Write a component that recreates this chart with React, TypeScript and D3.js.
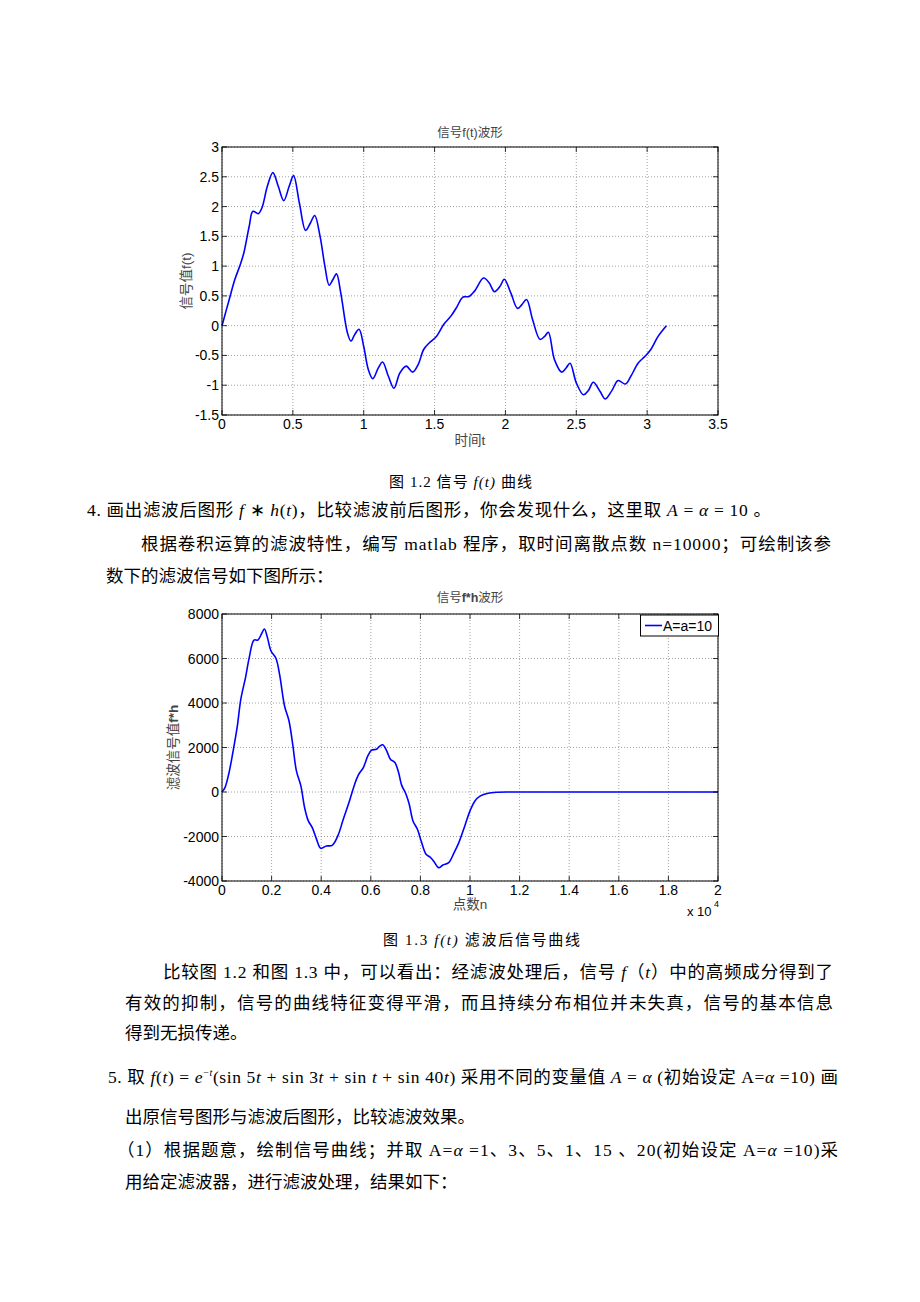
import React from 'react';
import * as d3 from 'd3';

// ---------- Figure 1.2 : f(t) ----------
const t1 = [0, 0.051, 0.09, 0.128, 0.154, 0.192, 0.218, 0.256, 0.282, 0.32, 0.359, 0.397, 0.436, 0.474, 0.505, 0.546, 0.59, 0.623, 0.654, 0.692, 0.726, 0.756, 0.782, 0.808, 0.838, 0.885, 0.91, 0.936, 0.967, 1.0, 1.033, 1.064, 1.103, 1.133, 1.174, 1.213, 1.256, 1.3, 1.346, 1.385, 1.423, 1.462, 1.513, 1.564, 1.615, 1.654, 1.7, 1.744, 1.782, 1.846, 1.885, 1.923, 1.962, 1.992, 2.038, 2.085, 2.115, 2.149, 2.192, 2.244, 2.277, 2.303, 2.346, 2.397, 2.428, 2.456, 2.5, 2.551, 2.585, 2.62, 2.667, 2.705, 2.751, 2.795, 2.846, 2.885, 2.936, 2.987, 3.026, 3.077, 3.136];
const f1 = [0, 0.44, 0.77, 1.02, 1.22, 1.67, 1.92, 1.88, 1.98, 2.34, 2.57, 2.34, 2.1, 2.34, 2.52, 2.06, 1.6, 1.72, 1.85, 1.5, 1.0, 0.68, 0.77, 0.87, 0.55, -0.12, -0.26, -0.15, -0.06, -0.35, -0.74, -0.89, -0.71, -0.61, -0.85, -1.05, -0.79, -0.68, -0.78, -0.65, -0.4, -0.29, -0.18, 0.02, 0.16, 0.3, 0.48, 0.49, 0.58, 0.8, 0.72, 0.57, 0.66, 0.78, 0.55, 0.29, 0.35, 0.44, 0.1, -0.23, -0.18, -0.11, -0.57, -0.78, -0.71, -0.63, -0.96, -1.16, -1.09, -0.95, -1.1, -1.23, -1.09, -0.92, -0.98, -0.85, -0.63, -0.51, -0.4, -0.18, 0.0];
const xTicks1 = [0, 0.5, 1, 1.5, 2, 2.5, 3, 3.5];
const xTickLabels1 = ['0', '0.5', '1', '1.5', '2', '2.5', '3', '3.5'];
const yTicks1 = [-1.5, -1, -0.5, 0, 0.5, 1, 1.5, 2, 2.5, 3];
const yTickLabels1 = ['-1.5', '-1', '-0.5', '0', '0.5', '1', '1.5', '2', '2.5', '3'];

// ---------- Figure 1.3 : f*h ----------
const n2 = [0, 0.012, 0.027, 0.045, 0.061, 0.076, 0.095, 0.11, 0.129, 0.145, 0.159, 0.171, 0.183, 0.197, 0.217, 0.232, 0.252, 0.27, 0.285, 0.3, 0.318, 0.333, 0.348, 0.364, 0.379, 0.398, 0.421, 0.444, 0.467, 0.489, 0.512, 0.535, 0.55, 0.57, 0.588, 0.603, 0.623, 0.636, 0.648, 0.664, 0.679, 0.697, 0.712, 0.724, 0.742, 0.755, 0.77, 0.788, 0.803, 0.823, 0.838, 0.853, 0.873, 0.891, 0.914, 0.936, 0.955, 0.979, 1.0, 1.02, 1.042, 1.073, 1.111, 1.164, 1.3, 1.6, 2.0];
const g2 = [0, 200, 800, 1850, 2900, 4175, 5150, 6050, 6830, 6830, 7100, 7325, 6950, 6350, 6020, 5300, 3875, 3200, 2150, 950, 275, -700, -1300, -1600, -2050, -2530, -2425, -2400, -1975, -1225, -475, 350, 770, 1100, 1625, 1880, 1925, 2060, 2120, 1850, 1475, 1325, 875, 320, -100, -550, -1300, -1675, -2200, -2800, -2920, -3100, -3400, -3280, -3175, -2725, -2275, -1525, -850, -400, -175, -55, -10, 0, 0, 0, 0];
const xTicks2 = [0, 0.2, 0.4, 0.6, 0.8, 1, 1.2, 1.4, 1.6, 1.8, 2];
const xTickLabels2 = ['0', '0.2', '0.4', '0.6', '0.8', '1', '1.2', '1.4', '1.6', '1.8', '2'];
const yTicks2 = [-4000, -2000, 0, 2000, 4000, 6000, 8000];
const yTickLabels2 = ['-4000', '-2000', '0', '2000', '4000', '6000', '8000'];
const legendLabel2 = 'A=a=10';

const CJK_SANS = '"Liberation Sans", Arial, "Noto Sans CJK SC", sans-serif';
const BODY = '"Liberation Serif", "Times New Roman", "Noto Sans CJK SC", serif';

type ChartProps = {
  left: number; right: number; top: number; bottom: number;
  xDomain: [number, number]; yDomain: [number, number];
  xTicks: number[]; xLabels: string[]; yTicks: number[]; yLabels: string[];
  xs: number[]; ys: number[];
  title: React.ReactNode; titleY: number;
  xlabel: React.ReactNode; xlabelY: number;
  ylabel: React.ReactNode; ylabelX: number;
  xTickDy: number;
};

function Chart(p: ChartProps) {
  const x = d3.scaleLinear().domain(p.xDomain).range([p.left, p.right]);
  const y = d3.scaleLinear().domain(p.yDomain).range([p.bottom, p.top]);
  const pts: [number, number][] = p.xs.map((v, i) => [x(v), y(p.ys[i])]);
  const path = d3.line().curve(d3.curveCatmullRom.alpha(0.5))(pts) || '';
  const tl = 5;
  const cx = (p.left + p.right) / 2;
  const cy = (p.top + p.bottom) / 2;
  return (
    <g>
      {p.xTicks.map((v, i) => (
        <line key={'gx' + i} x1={x(v)} x2={x(v)} y1={p.top} y2={p.bottom} stroke="#8c8c8c" strokeWidth={0.8} strokeDasharray="1 2" />
      ))}
      {p.yTicks.map((v, i) => (
        <line key={'gy' + i} x1={p.left} x2={p.right} y1={y(v)} y2={y(v)} stroke="#8c8c8c" strokeWidth={0.8} strokeDasharray="1 2" />
      ))}
      <path d={path} fill="none" stroke="#0000ff" strokeWidth={1.6} strokeLinejoin="round" />
      <rect x={p.left} y={p.top} width={p.right - p.left} height={p.bottom - p.top} fill="none" stroke="#000" strokeWidth={1} />
      {p.xTicks.map((v, i) => (
        <g key={'tx' + i}>
          <line x1={x(v)} x2={x(v)} y1={p.bottom} y2={p.bottom - tl} stroke="#000" strokeWidth={0.8} />
          <line x1={x(v)} x2={x(v)} y1={p.top} y2={p.top + tl} stroke="#000" strokeWidth={0.8} />
          <text x={x(v)} y={p.bottom + p.xTickDy} textAnchor="middle" fontSize={14} fontFamily={CJK_SANS} fill="#000">{p.xLabels[i]}</text>
        </g>
      ))}
      {p.yTicks.map((v, i) => (
        <g key={'ty' + i}>
          <line x1={p.left} x2={p.left + tl} y1={y(v)} y2={y(v)} stroke="#000" strokeWidth={0.8} />
          <line x1={p.right} x2={p.right - tl} y1={y(v)} y2={y(v)} stroke="#000" strokeWidth={0.8} />
          <text x={p.left - 3} y={y(v) + 5} textAnchor="end" fontSize={14} fontFamily={CJK_SANS} fill="#000">{p.yLabels[i]}</text>
        </g>
      ))}
      <text x={cx} y={p.titleY} textAnchor="middle" fontSize={12.5} fontFamily={CJK_SANS} fill="#444">{p.title}</text>
      <text x={cx} y={p.xlabelY} textAnchor="middle" fontSize={13.5} fontFamily={CJK_SANS} fill="#444">{p.xlabel}</text>
      <text transform={`translate(${p.ylabelX},${cy}) rotate(-90)`} textAnchor="middle" fontSize={13.5} fontFamily={CJK_SANS} fill="#444">{p.ylabel}</text>
    </g>
  );
}

const I = (s: string) => <tspan fontStyle="italic">{s}</tspan>;

export default function App() {
  return (
    <svg width={920} height={1302} viewBox="0 0 920 1302" style={{ position: 'absolute', left: 0, top: 0, background: '#fff' }}>
      <rect x={0} y={0} width={920} height={1302} fill="#fff" />
      <Chart
        left={222} right={718} top={147} bottom={415}
        xDomain={[0, 3.5]} yDomain={[-1.5, 3]}
        xTicks={xTicks1} xLabels={xTickLabels1} yTicks={yTicks1} yLabels={yTickLabels1}
        xs={t1} ys={f1}
        title="信号f(t)波形" titleY={137}
        xlabel="时间t" xlabelY={445}
        ylabel="信号值f(t)" ylabelX={191}
        xTickDy={14}
      />
      <Chart
        left={222} right={718} top={614} bottom={881}
        xDomain={[0, 2]} yDomain={[-4000, 8000]}
        xTicks={xTicks2} xLabels={xTickLabels2} yTicks={yTicks2} yLabels={yTickLabels2}
        xs={n2} ys={g2}
        title={<>信号<tspan fontWeight="bold">f*h</tspan>波形</>} titleY={602}
        xlabel="点数n" xlabelY={909}
        ylabel={<>滤波信号值<tspan fontWeight="bold">f*h</tspan></>} ylabelX={178}
        xTickDy={14}
      />
      <g>
        <rect x={640.5} y={615} width={78} height={21} fill="#fff" stroke="#000" strokeWidth={1} />
        <line x1={645} x2={662} y1={625.5} y2={625.5} stroke="#0000ff" strokeWidth={1.6} />
        <text x={663} y={631} fontSize={14} fontFamily={CJK_SANS} fill="#000">{legendLabel2}</text>
      </g>
      <text x={687} y={916} fontSize={13} fontFamily={CJK_SANS} fill="#000">x 10</text>
      <text x={714} y={907} fontSize={9} fontFamily={CJK_SANS} fill="#000">4</text>

      <g fontFamily={BODY} fill="#000">
        <text x={389} y={487} fontSize={15} textLength={143} lengthAdjust="spacing">图 1.2 信号 {I('f(t)')}  曲线</text>
        <text x={87} y={516} fontSize={17.5} textLength={684} lengthAdjust="spacing">4. 画出滤波后图形 {I('f')} ∗ {I('h')}({I('t')})，比较滤波前后图形，你会发现什么，这里取 {I('A')} = {I('α')} = 10 。</text>
        <text x={141} y={550} fontSize={17.5} textLength={690} lengthAdjust="spacing">根据卷积运算的滤波特性，编写 matlab 程序，取时间离散点数 n=10000；可绘制该参</text>
        <text x={106} y={582} fontSize={17.5}>数下的滤波信号如下图所示：</text>

        <text x={383} y={945} fontSize={15} textLength={197} lengthAdjust="spacing">图 1.3    {I('f(t)')}  滤波后信号曲线</text>
        <text x={163} y={978} fontSize={17.5} textLength={670} lengthAdjust="spacing">比较图 1.2 和图 1.3 中，可以看出：经滤波处理后，信号 {I('f')}（{I('t')}）中的高频成分得到了</text>
        <text x={125} y={1009} fontSize={17.5} textLength={708} lengthAdjust="spacing">有效的抑制，信号的曲线特征变得平滑，而且持续分布相位并未失真，信号的基本信息</text>
        <text x={125} y={1039} fontSize={17.5}>得到无损传递。</text>

        <text x={108} y={1083} fontSize={17.5} textLength={730} lengthAdjust="spacing">5. 取 {I('f')}({I('t')}) = {I('e')}<tspan fontSize={10} dy={-7}>−{I('t')}</tspan><tspan dy={7}>(sin 5{I('t')} + sin 3{I('t')} + sin {I('t')} + sin 40{I('t')}) 采用不同的变量值 {I('A')} = {I('α')} (初始设定 A={I('α')} =10)  画</tspan></text>
        <text x={125} y={1123} fontSize={17.5}>出原信号图形与滤波后图形，比较滤波效果。</text>
        <text x={117} y={1156} fontSize={17.5} textLength={721} lengthAdjust="spacing">（1）根据题意，绘制信号曲线；并取 A={I('α')} =1、3、5、1、15 、20(初始设定 A={I('α')} =10)采</text>
        <text x={125} y={1188} fontSize={17.5}>用给定滤波器，进行滤波处理，结果如下：</text>
      </g>
    </svg>
  );
}
